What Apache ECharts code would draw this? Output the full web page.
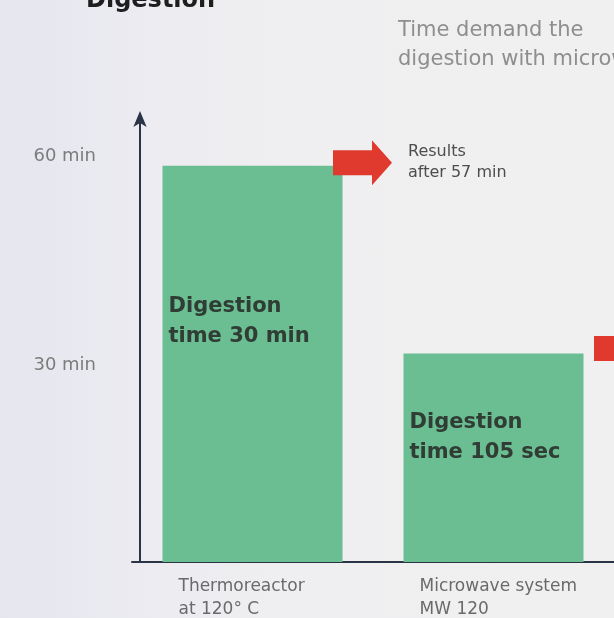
<!DOCTYPE html>
<html>
<head>
<meta charset="utf-8">
<script src="https://cdn.jsdelivr.net/npm/echarts@6/dist/echarts.min.js"></script>
<style>
  html, body { margin: 0; padding: 0; }
  body { background: linear-gradient(to right, #e5e6ee 0%, #ebebf1 22%, #efeff1 45%, #f0f0f0 100%); }
  #chart { width: 614px; height: 618px; }
</style>
</head>
<body>
<div id="chart"></div>
<script>
// ---- data ----
const categories = ['Thermoreactor\nat 120° C', 'Microwave system\nMW 120'];
const timeValues = [57, 30];                       // minutes until result
const barTexts = ['Digestion\ntime 30 min', 'Digestion\ntime 105 sec'];
const resultTexts = ['Results\nafter 57 min', ''];
const yTickValues = [30, 60];
const yTickSuffix = ' min';
const titleText = 'Digestion';
const subtitleText = 'Time demand the\ndigestion with microwave';

const FONT = '"DejaVu Sans", sans-serif';
const chart = echarts.init(document.getElementById('chart'), null, { renderer: 'canvas' });

const labelPos = [[6, 126], [6, 54]];
const labelSize = [21, 21];
const arrowOffsets = [[110, -3], [130, -5]];

const option = {
  backgroundColor: 'transparent',
  animation: false,
  grid: { left: 132, right: 0, top: 117, bottom: 56, containLabel: false },
  graphic: [
    { type: 'text', left: 86, top: -11,
      style: { text: titleText, font: 'bold 24px ' + FONT, fill: '#1e1e1e' } },
    { type: 'text', left: 398, top: 16,
      style: { text: subtitleText, font: '21px ' + FONT, fill: '#8e8e8e', lineHeight: 29 } }
  ],
  xAxis: {
    type: 'category',
    data: categories,
    boundaryGap: true,
    axisLine: { show: true, lineStyle: { color: '#2b3346', width: 2 } },
    axisTick: { show: false },
    axisLabel: {
      interval: 0,
      margin: 13,
      formatter: v => v.split('\n').map(l => '{a|' + l + '}').join('\n'),
      rich: { a: { width: 148, align: 'left', fontSize: 17, lineHeight: 23, color: '#6a6a6a', fontFamily: FONT } }
    }
  },
  yAxis: {
    type: 'value',
    min: 0,
    max: 64,
    offset: -8,
    splitLine: { show: false },
    axisLine: {
      show: true,
      symbol: ['none', 'arrow'],
      symbolSize: [10, 16],
      symbolOffset: [0, 6],
      lineStyle: { color: '#2b3346', width: 2 }
    },
    axisTick: { show: false },
    axisLabel: {
      customValues: yTickValues,
      formatter: v => v + yTickSuffix,
      margin: 44,
      color: '#7c7c7c',
      fontSize: 18,
      fontFamily: FONT,
      verticalAlign: 'top',
      lineHeight: 24
    }
  },
  series: [{
    type: 'bar',
    barWidth: 180,
    itemStyle: { color: '#6bbd92' },
    data: timeValues.map((v, i) => ({
      value: v,
      label: {
        show: true,
        position: labelPos[i],
        formatter: barTexts[i],
        fontFamily: FONT,
        fontWeight: 'bold',
        fontSize: labelSize[i],
        lineHeight: 30,
        color: '#2f3d35'
      }
    })),
    markPoint: {
      symbol: 'path://M0,10 L39,10 L39,0 L59,22.5 L39,45 L39,35 L0,35 Z',
      symbolSize: [59, 45],
      symbolKeepAspect: false,
      itemStyle: { color: '#e03a2f' },
      label: {
        show: true,
        position: 'right',
        distance: 16,
        fontFamily: FONT,
        fontSize: 16,
        lineHeight: 21,
        color: '#4d4d4d'
      },
      data: timeValues.map((v, i) => ({
        coord: [i, v],
        symbolOffset: arrowOffsets[i],
        label: { formatter: resultTexts[i] }
      }))
    }
  }]
};
chart.setOption(option);
</script>
</body>
</html>
